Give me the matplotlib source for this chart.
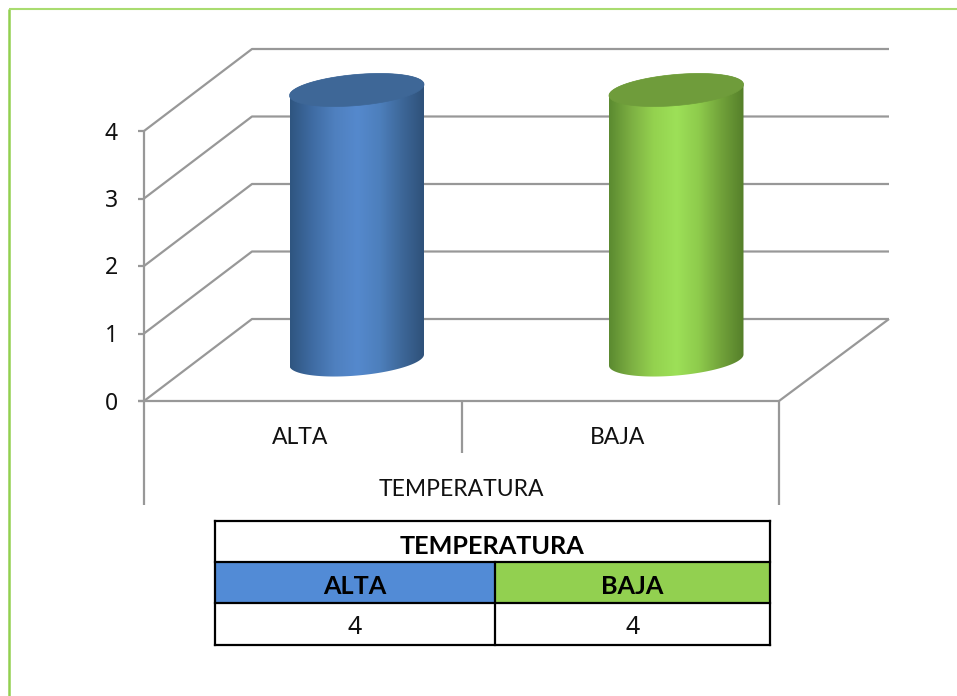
import matplotlib
matplotlib.use('Agg')
import matplotlib.pyplot as plt
import numpy as np
from matplotlib.colors import LinearSegmentedColormap
from matplotlib.patches import Polygon, Rectangle

plt.rcParams['font.family'] = ['Lato', 'DejaVu Sans']

# Data
categories = ['ALTA', 'BAJA']
values = [4, 4]
group_label = 'TEMPERATURA'
y_ticks = [0, 1, 2, 3, 4]

W, H = 957, 696
GRID = '#989898'
TEXT = '#111111'
DIGIT_FONT = 'Noto Sans'

# body shading runs dark - light - dark across the cylinder
body_colors = [
    ['#2f5580', '#3f6ca3', '#4f80bf', '#5589cd', '#4d7fbc', '#3d6798', '#2e5078'],
    ['#5b8a30', '#7db043', '#94d24f', '#9de058', '#8ecb4c', '#71a23a', '#557f2a'],
]
cap_colors = ['#3e6797', '#6f9c3b']
header_colors = ['#528bd6', '#92d050']

fig = plt.figure(figsize=(W / 100, H / 100), dpi=100, facecolor='white')

# full figure overlay in pixels, for the frame and the summary table
page = fig.add_axes([0, 0, 1, 1])
page.set_xlim(0, W)
page.set_ylim(H, 0)
page.axis('off')
page.plot([9, 9], [H, 8.5], color='#92d050', lw=1.8, solid_capstyle='butt')
page.plot([9, W], [8.5, 8.5], color='#a9dc70', lw=1.5, solid_capstyle='butt')

# chart axes: x in category slots, y in value units, on the front plane
ax = fig.add_axes([144 / W, (H - 401) / H, 635 / W, 270 / H])
ax.set_xlim(0, len(categories))
ax.set_ylim(0, max(y_ticks))
ax.axis('off')
ax.patch.set_alpha(0)

# oblique depth of the 3D box, in data units
depth_x = 108 / (635 / len(categories))
depth_y = 82 / (270 / max(y_ticks))
right_over = 110 / (635 / len(categories))

line = dict(color=GRID, lw=1.6, clip_on=False, solid_capstyle='butt')

# walls and floor
for t in y_ticks:
    ax.plot([0, depth_x, len(categories) + right_over],
            [t, t + depth_y, t + depth_y], **line)
ax.plot([len(categories), len(categories) + right_over],
        [0, depth_y], **line)
ax.plot([0, 0], [0, max(y_ticks)], **line)
ax.plot([-6 / 317.5, len(categories)], [0, 0], **line)
px_y = max(y_ticks) / 270
for t in y_ticks:
    ax.plot([-6 / 317.5, 0], [t, t], **line)
    ax.text(-33 / 317.5, t - 2.5 * px_y, str(t), ha='center', va='center',
            fontsize=16.5, color=TEXT, family=DIGIT_FONT)

# multi-level category dividers under the axis
ax.plot([0, 0], [0, -104 * px_y], **line)
ax.plot([len(categories)] * 2, [0, -104 * px_y], **line)
ax.plot([1, 1], [0, -52 * px_y], **line)
for i, name in enumerate(categories):
    ax.text(i + 0.5 - 3 / 317.5, -37 * px_y, name, ha='center', va='center',
            fontsize=16.5, color=TEXT)
ax.text(1, -88 * px_y, group_label, ha='center', va='center',
        fontsize=16.5, color=TEXT)

# cylinders sit halfway into the depth of the box
semi_a = 67.5 / 317.5
semi_b = 15.5 * px_y
tilt = np.radians(5)
aspect = (1 / 317.5) / px_y


def ellipse_points(cx, cy, theta):
    u = semi_a * np.cos(theta)
    v = semi_b * np.sin(theta)
    x = cx + u * np.cos(tilt) - v * np.sin(tilt) * aspect
    y = cy + u * np.sin(tilt) / aspect + v * np.cos(tilt)
    return x, y


for i, value in enumerate(values):
    cx = i + 0.5 + depth_x / 2 + (2 / 317.5) * i
    base = depth_y / 2
    top = base + value

    # outline of the body: lower half of the base, then the top rim
    bx, by = ellipse_points(cx, base, np.linspace(np.pi, 2 * np.pi, 80))
    tx, ty = ellipse_points(cx, top, np.linspace(0, np.pi, 80))
    verts = np.column_stack([np.r_[bx, tx], np.r_[by, ty]])
    body = Polygon(verts, closed=True, facecolor='none', edgecolor='none',
                   transform=ax.transData)
    ax.add_patch(body)

    cmap = LinearSegmentedColormap.from_list('body', body_colors[i])
    im = ax.imshow(np.linspace(0, 1, 256).reshape(1, -1), cmap=cmap,
                   extent=[bx.min(), bx.max(), by.min(), ty.max()],
                   aspect='auto', zorder=3, interpolation='bilinear')
    # the image runs above the value axis limit, so only the body outline clips it
    im.set_clip_box(fig.bbox)
    im.set_clip_path(body)

    cap_x, cap_y = ellipse_points(cx, top, np.linspace(0, 2 * np.pi, 160))
    ax.fill(cap_x, cap_y, color=cap_colors[i], lw=0.5, zorder=4, clip_on=False)

ax.set_xlim(0, len(categories))
ax.set_ylim(0, max(y_ticks))

# summary table
tx0, tx1, tmid = 215, 770, 494.5
rows = [521, 562, 603, 645]
page.add_patch(Rectangle((tx0, rows[1]), tmid - tx0, rows[2] - rows[1],
                         facecolor=header_colors[0], edgecolor='none'))
page.add_patch(Rectangle((tmid, rows[1]), tx1 - tmid, rows[2] - rows[1],
                         facecolor=header_colors[1], edgecolor='none'))
edge = dict(color='black', lw=1.6, solid_capstyle='projecting')
for r in rows:
    page.plot([tx0, tx1], [r, r], **edge)
page.plot([tx0, tx0], [rows[0], rows[-1]], **edge)
page.plot([tx1, tx1], [rows[0], rows[-1]], **edge)
page.plot([tmid, tmid], [rows[1], rows[-1]], **edge)

page.text((tx0 + tx1) / 2, 546, group_label, ha='center', va='center',
          fontsize=18.2, fontweight='bold', color='black')
for i, name in enumerate(categories):
    xc = (tx0 + tmid) / 2 if i == 0 else (tmid + tx1) / 2
    page.text(xc, 587, name, ha='center', va='center', fontsize=18.2,
              fontweight='bold', color='black')
    page.text(xc, 628, str(values[i]), ha='center', va='center', fontsize=18,
              color=TEXT, family=DIGIT_FONT)

fig.savefig('out.png', dpi=100)
